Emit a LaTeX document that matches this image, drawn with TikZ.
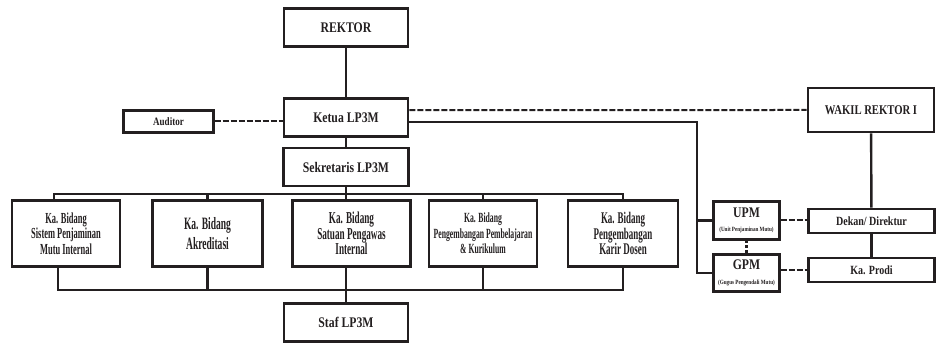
\documentclass[tikz,border=0pt]{standalone}
\usepackage{fontspec}
\setmainfont{Liberation Serif}[FakeStretch=0.8]
\newfontfamily\narrowserif{Liberation Serif}[FakeStretch=0.55]
\usetikzlibrary{positioning}
\definecolor{ink}{RGB}{35,31,32}
\tikzset{unit/.style={rectangle,draw=ink,text=ink,line width=2.2pt,inner sep=0pt,align=center,
                      font=\bfseries\fontsize{11}{13}\selectfont},
         bidang/.style={unit,minimum height=50pt,font=\narrowserif\bfseries\fontsize{11.5}{11.7}\selectfont},
         solid link/.style={draw=ink,line width=1.8pt},
         dash link/.style={draw=ink,line width=1.5pt,dash pattern=on 4.5pt off 1.5pt},
         dot link/.style={draw=ink,line width=1.6pt,dash pattern=on 2pt off 1.5pt}
}

\begin{document}
\begin{tikzpicture}[x=0.75pt,y=-0.75pt]
\useasboundingbox (0,0) rectangle (939,345);

% pimpinan
\node[unit,minimum width=93pt,minimum height=29pt] (rektor) at (346,27.5) {REKTOR};
\node[unit,minimum width=93pt,minimum height=29pt] (ketua) at (346,117.5) {Ketua LP3M};
\node[unit,minimum width=67pt,minimum height=17pt,font=\bfseries\fontsize{8.5}{10}\selectfont] (auditor) at (168.5,121.5) {Auditor};
\node[unit,minimum width=94pt,minimum height=28.5pt] (sekretaris) at (346,167) {Sekretaris LP3M};

% bidang
\node[bidang,minimum width=81pt] (b1) at (66,233.5) {Ka. Bidang\\Sistem Penjaminan\\Mutu Internal};
\node[bidang,minimum width=82pt,font=\narrowserif\bfseries\fontsize{13}{15}\selectfont] (b2) at (207.5,233.5) {Ka. Bidang\\Akreditasi};
\node[bidang,minimum width=88pt,font=\narrowserif\bfseries\fontsize{12.5}{11.5}\selectfont] (b3) at (351.5,233.5) {Ka. Bidang\\Satuan Pengawas\\Internal};
\node[bidang,minimum width=81pt,font=\narrowserif\bfseries\fontsize{10.5}{11.5}\selectfont] (b4) at (483,233.5) {Ka. Bidang\\Pengembangan Pembelajaran\\\& Kurikulum};
\node[bidang,minimum width=82.5pt,font=\narrowserif\bfseries\fontsize{12.2}{11.5}\selectfont] (b5) at (623,233.5) {Ka. Bidang\\Pengembangan\\Karir Dosen};
\node[unit,minimum width=93pt,minimum height=29pt] (staf) at (346,322.5) {Staf LP3M};

% sisi kanan
\node[unit,minimum width=94.5pt,minimum height=33pt,font=\bfseries\fontsize{10}{12}\selectfont] (wakil) at (871,110) {WAKIL REKTOR I};
\node[unit,minimum width=49pt,minimum height=28pt] (upm) at (746.5,220.5)
    {UPM\\[-2pt]{\fontsize{4.8}{5}\selectfont (Unit Penjaminan Mutu)}};
\node[unit,minimum width=49pt,minimum height=28pt] (gpm) at (746.5,273)
    {GPM\\[-2pt]{\fontsize{4.8}{5}\selectfont (Gugus Pengendali Mutu)}};
\node[unit,minimum width=95pt,minimum height=18pt,font=\bfseries\fontsize{9.4}{11}\selectfont] (dekan) at (871.5,221) {Dekan/ Direktur};
\node[unit,minimum width=95pt,minimum height=18pt,font=\bfseries\fontsize{9.4}{11}\selectfont] (prodi) at (871.5,270) {Ka. Prodi};

\coordinate (top bus) at (0,194);
\coordinate (low bus) at (0,290);
\coordinate (fork) at (697,0);

\draw[solid link] (rektor) -- (ketua);
\draw[solid link] (ketua) -- (sekretaris);
\draw[dash link] (auditor.east) -- (auditor.east -| ketua.west);
\draw[dash link] ([yshift=5.6pt]ketua.east) -- (wakil.west);
\draw[solid link] ([yshift=-3.4pt]ketua.east) -| (fork |- gpm.west) -- (gpm.west);
\draw[solid link] (fork |- upm.west) -- (upm.west);
\draw[solid link] (wakil) -- (dekan);
\draw[solid link] (dekan) -- (prodi);
\draw[dash link] (upm.east) -- (upm.east -| dekan.west);
\draw[dash link] (prodi.west -| gpm.east) -- (prodi.west);
\draw[dot link] (upm) -- (gpm);

% garis bidang
\draw[solid link] ([xshift=-9pt]b1.north) |- (b5.north |- top bus) -- (b5.north);
\draw[solid link] (sekretaris.south) -- (sekretaris.south |- b3.north);
\foreach \b in {b2,b4}
    \draw[solid link] (\b.north) -- (\b.north |- top bus);
\draw[solid link] ([xshift=-6pt]b1.south) |- (b5.south |- low bus) -- (b5.south);
\foreach \b in {b2,b4}
    \draw[solid link] (\b.south) -- (\b.south |- low bus);
\draw[solid link] (sekretaris.south |- b3.south) -- (staf.north);
\end{tikzpicture}
\end{document}
